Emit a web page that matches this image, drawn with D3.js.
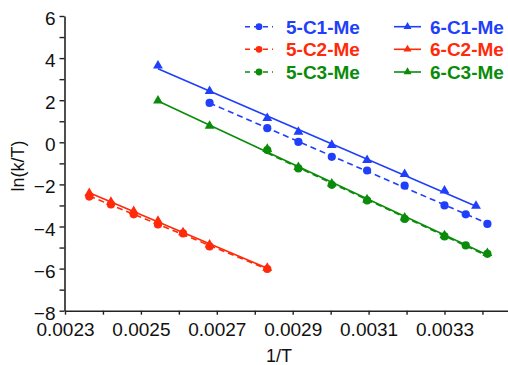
<!DOCTYPE html>
<html><head><meta charset="utf-8">
<script src="https://cdn.jsdelivr.net/npm/d3@7"></script>
<style>body{margin:0;background:#fff}svg{display:block}text{font-family:"Liberation Sans",Arial,sans-serif}</style>
</head><body><svg id="c" width="508" height="365"></svg>
<script>
// ---- data ----
const x5C1 = [0.002681, 0.002833, 0.002915, 0.003003, 0.003096, 0.003195, 0.003300, 0.003356, 0.003413];
const y5C1 = [1.87, 0.67, 0.02, -0.69, -1.34, -2.06, -3.00, -3.42, -3.88];
const x6C1 = [0.002545, 0.002681, 0.002833, 0.002915, 0.003003, 0.003096, 0.003195, 0.003300, 0.003383];
const y6C1 = [3.64, 2.43, 1.15, 0.49, -0.13, -0.85, -1.51, -2.30, -3.02];
const x5C2 = [0.002364, 0.002421, 0.002481, 0.002545, 0.002611, 0.002681, 0.002833];
const y5C2 = [-2.58, -2.95, -3.42, -3.90, -4.33, -4.95, -6.02];
const x6C2 = [0.002364, 0.002421, 0.002481, 0.002545, 0.002611, 0.002681, 0.002833];
const y6C2 = [-2.42, -2.83, -3.27, -3.74, -4.28, -4.86, -5.97];
const x5C3 = [0.002833, 0.002915, 0.003003, 0.003096, 0.003195, 0.003300, 0.003356, 0.003413];
const y5C3 = [-0.37, -1.24, -2.02, -2.76, -3.64, -4.47, -4.90, -5.30];
const x6C3 = [0.002545, 0.002681, 0.002833, 0.002915, 0.003003, 0.003096, 0.003195, 0.003300, 0.003413];
const y6C3 = [1.98, 0.78, -0.32, -1.18, -1.97, -2.72, -3.58, -4.42, -5.27];
const seriesNames = ["5-C1-Me","6-C1-Me","5-C2-Me","6-C2-Me","5-C3-Me","6-C3-Me"];
const xTickLabels = ["0.0023","0.0025","0.0027","0.0029","0.0031","0.0033"];
const yTickLabels = ["6","4","2","0","−2","−4","−6","−8"];
const xLabel = "1/T", yLabel = "ln(k/T)";

const BLUE="#1f3ffb", RED="#ff2a0a", GREEN="#0a8c0a";
const series = [
  {name:seriesNames[0], xs:x5C1, ys:y5C1, color:BLUE, shape:"circle", dash:true},
  {name:seriesNames[1], xs:x6C1, ys:y6C1, color:BLUE, shape:"tri", dash:false},
  {name:seriesNames[2], xs:x5C2, ys:y5C2, color:RED, shape:"circle", dash:true},
  {name:seriesNames[3], xs:x6C2, ys:y6C2, color:RED, shape:"tri", dash:false},
  {name:seriesNames[4], xs:x5C3, ys:y5C3, color:GREEN, shape:"circle", dash:true},
  {name:seriesNames[5], xs:x6C3, ys:y6C3, color:GREEN, shape:"tri", dash:false},
];

const svg = d3.select("#c");
const x = d3.scaleLinear().domain([0.0023, 0.0035]).range([65, 520.4]);
const y = d3.scaleLinear().domain([-8, 6]).range([310.7, 16]);

// axes
const xAxis = d3.axisBottom(x).tickValues(d3.range(0,12).map(i=>0.0023+i*0.0001))
  .tickSizeInner(4).tickSizeOuter(0)
  .tickFormat((d,i)=> i%2===0 ? xTickLabels[i/2] : "");
const gx = svg.append("g").attr("transform",`translate(0,${y(-8)})`).call(xAxis);
gx.select(".domain").attr("stroke","#222").attr("stroke-width",1.6);
gx.selectAll(".tick line").attr("stroke","#222").attr("stroke-width",1.4);
gx.selectAll(".tick text").attr("font-size",19).attr("fill","#111").attr("dy","0.95em")
  .attr("font-family","Liberation Sans, Arial, sans-serif");

const yAxis = d3.axisLeft(y).tickValues(d3.range(-8,7,1))
  .tickSizeInner(5).tickSizeOuter(0)
  .tickFormat(d=> d%2===0 ? yTickLabels[(6-d)/2] : "");
const gy = svg.append("g").attr("transform",`translate(64.5,0)`).call(yAxis);
gy.select(".domain").attr("stroke","#222").attr("stroke-width",1.6);
gy.selectAll(".tick line").attr("stroke","#222").attr("stroke-width",1.4);
gy.selectAll(".tick text").attr("font-size",19).attr("fill","#111").attr("dy","0.45em").attr("x",-9)
  .attr("font-family","Liberation Sans, Arial, sans-serif");

svg.append("text").attr("x",279).attr("y",362).attr("text-anchor","middle")
  .attr("font-size",18).attr("fill","#111").text(xLabel);
svg.append("text").attr("transform","translate(24,166) rotate(-90)").attr("text-anchor","middle")
  .attr("font-size",18).attr("fill","#111").text(yLabel);

// fit lines
function fit(xs, ys){
  const mx=d3.mean(xs), my=d3.mean(ys);
  const b=d3.sum(xs.map((v,i)=>(v-mx)*(ys[i]-my)))/d3.sum(xs.map(v=>(v-mx)*(v-mx)));
  const a=my-b*mx; const x0=d3.min(xs), x1=d3.max(xs);
  return [[x0,a+b*x0],[x1,a+b*x1]];
}
function marker(g, shape, cx, cy, color, r, triArea){
  if(shape==="circle") g.append("circle").attr("cx",cx).attr("cy",cy).attr("r",r).attr("fill",color);
  else g.append("path").attr("d",d3.symbol().type(d3.symbolTriangle).size(triArea)())
    .attr("transform",`translate(${cx},${cy})`).attr("fill",color);
}
const plot = svg.append("g");
series.forEach(s=>{
  const f = fit(s.xs, s.ys);
  plot.append("line").attr("x1",x(f[0][0])).attr("y1",y(f[0][1])).attr("x2",x(f[1][0])).attr("y2",y(f[1][1]))
    .attr("stroke",s.color).attr("stroke-width",1.6).attr("stroke-dasharray", s.dash? "6,4": null);
});
series.forEach(s=>{
  s.xs.forEach((v,i)=> marker(plot, s.shape, x(v), y(s.ys[i]), s.color, 4.1, 42));
});

// legend
const rowsY=[26.7,49.3,72];
series.forEach((s,i)=>{
  const col = i%2, row = Math.floor(i/2);
  const lx0 = col===0 ? 245 : 394, lx1 = col===0 ? 273 : 421, tx = col===0 ? 286 : 430;
  const cy = rowsY[row];
  svg.append("line").attr("x1",lx0).attr("x2",lx1).attr("y1",cy).attr("y2",cy)
    .attr("stroke",s.color).attr("stroke-width",1.6).attr("stroke-dasharray", s.dash? "5,4": null);
  marker(svg, s.shape, (lx0+lx1)/2, cy, s.color, 3.4, 28);
  svg.append("text").attr("x",tx).attr("y",cy+7).attr("font-size",19).attr("font-weight","bold")
    .attr("fill",s.color).text(s.name);
});
</script></body></html>
